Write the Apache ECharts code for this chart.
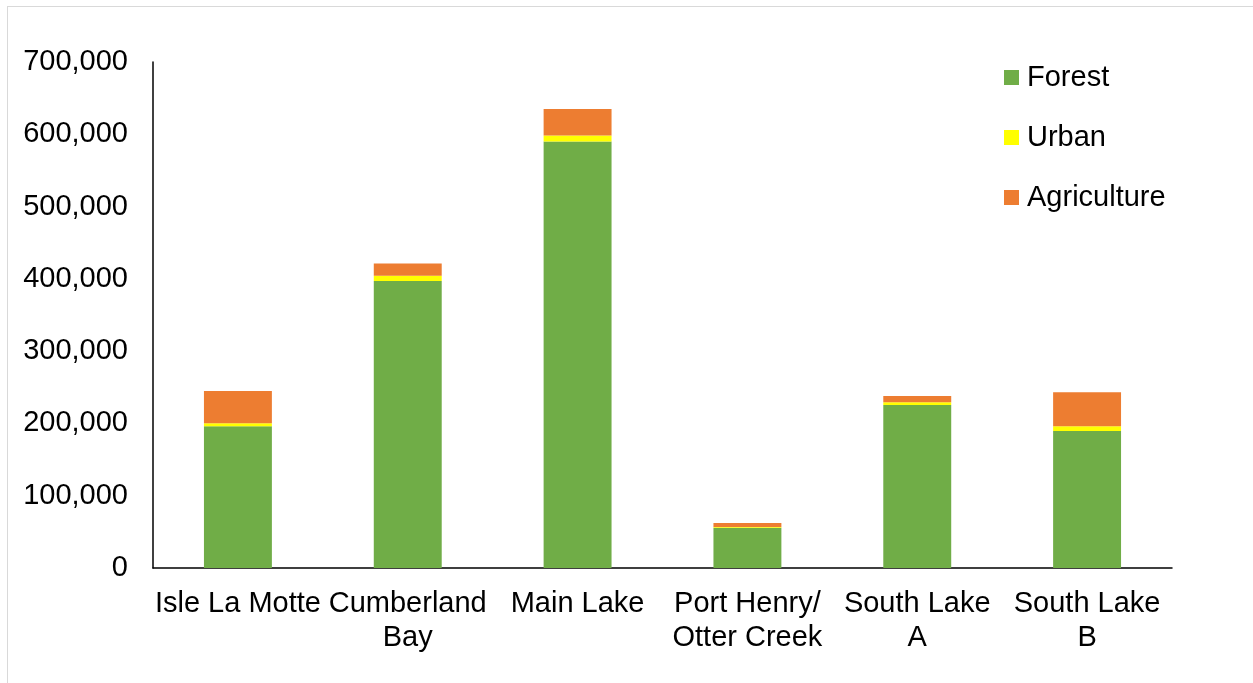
<!DOCTYPE html>
<html>
<head>
<meta charset="utf-8">
<script src="https://cdn.jsdelivr.net/npm/echarts@6/dist/echarts.min.js"></script>
<style>
  html, body { margin: 0; padding: 0; background: #fff; }
  #frame { position: absolute; left: 7px; top: 6px; width: 1260px; height: 690px; border: 1px solid #d9d9d9; box-sizing: border-box; }
  #chart { position: absolute; left: 0; top: 0; width: 1253px; height: 683px; }
</style>
</head>
<body>
<div id="frame"></div>
<div id="chart"></div>
<script>
// basins (x axis)
const categories = ['Isle La Motte', 'Cumberland\nBay', 'Main Lake', 'Port Henry/\nOtter Creek', 'South Lake\nA', 'South Lake\nB'];
// land use, acres
const forest = [196000, 397000, 590000, 55700, 225500, 189500];
const urban = [4200, 7300, 8300, 1000, 3700, 6500];
const agriculture = [44700, 17100, 36800, 5500, 8700, 47000];

const fontFamily = 'Liberation Sans, Arial, sans-serif';

let myChart = echarts.init(document.getElementById('chart'));
myChart.setOption({
    animation: false,
    textStyle: { fontFamily: fontFamily },
    grid: { left: 153, right: 81, top: 62, bottom: 115 },
    legend: {
        orient: 'vertical',
        left: 1004,
        top: 63,
        padding: 0,
        itemWidth: 15,
        itemHeight: 15,
        itemGap: 31,
        icon: 'rect',
        textStyle: { fontSize: 29, color: '#000', fontFamily: fontFamily, padding: [0, 0, 0, 3] },
        data: ['Forest', 'Urban', 'Agriculture']
    },
    xAxis: {
        type: 'category',
        data: categories,
        axisLine: { lineStyle: { color: '#000', width: 1.5 } },
        axisTick: { show: false },
        axisLabel: { fontSize: 29, color: '#000', lineHeight: 34, margin: 19, interval: 0, fontFamily: fontFamily }
    },
    yAxis: {
        type: 'value',
        min: 0,
        max: 700000,
        interval: 100000,
        axisLine: { show: true, lineStyle: { color: '#000', width: 1.5 } },
        axisTick: { show: false },
        splitLine: { show: false },
        axisLabel: {
            fontSize: 29, color: '#000', margin: 25, fontFamily: fontFamily,
            padding: [4, 0, 0, 0],
            formatter: v => v.toLocaleString('en-US')
        }
    },
    series: [
        { name: 'Forest', type: 'bar', stack: 'a', barWidth: '40%', data: forest, itemStyle: { color: '#70AD47' } },
        { name: 'Urban', type: 'bar', stack: 'a', data: urban, itemStyle: { color: '#FFFF00' } },
        { name: 'Agriculture', type: 'bar', stack: 'a', data: agriculture, itemStyle: { color: '#ED7D31' } }
    ]
});
</script>
</body>
</html>
